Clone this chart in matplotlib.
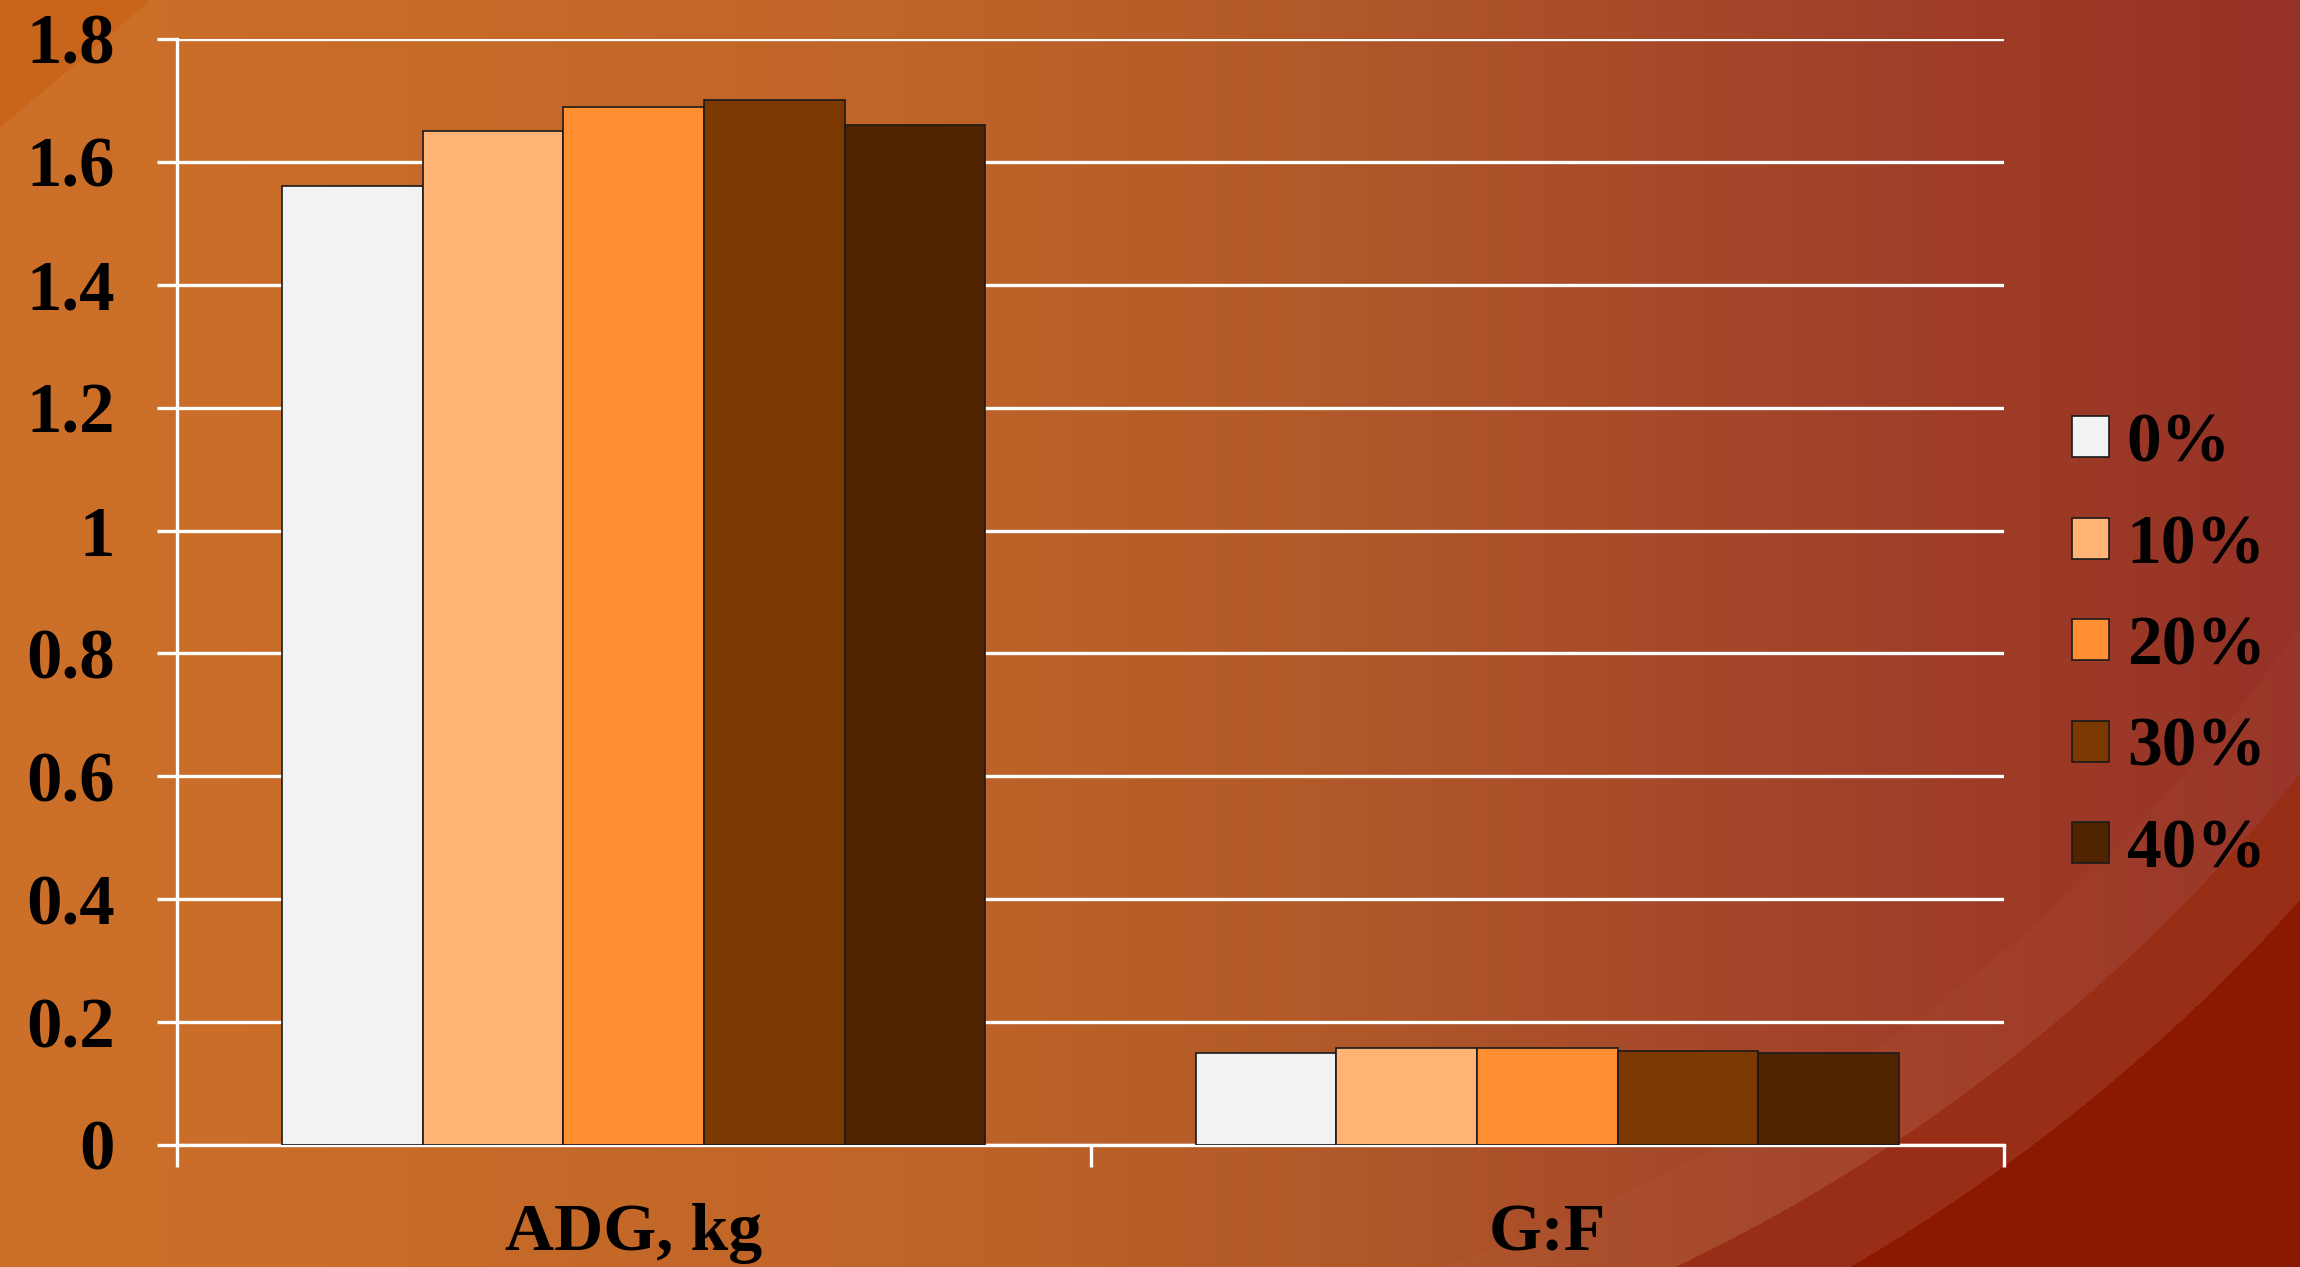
import matplotlib
matplotlib.use("Agg")
import matplotlib.pyplot as plt
import numpy as np

# chart values
categories = ["ADG, kg", "G:F"]
series = ["0%", "10%", "20%", "30%", "40%"]
values = {
    "0%":  [1.56, 0.150],
    "10%": [1.65, 0.158],
    "20%": [1.69, 0.158],
    "30%": [1.70, 0.153],
    "40%": [1.66, 0.150],
}
colors = ["#F2F2F2", "#FFB374", "#FF8F30", "#7B3800", "#512400"]
yticks = [0, 0.2, 0.4, 0.6, 0.8, 1.0, 1.2, 1.4, 1.6, 1.8]
ytick_labels = ["0", "0.2", "0.4", "0.6", "0.8", "1", "1.2", "1.4", "1.6", "1.8"]

plt.rcParams["font.family"] = ["Liberation Serif", "DejaVu Serif"]
plt.rcParams["font.weight"] = "bold"

W, H = 2300, 1267
fig = plt.figure(figsize=(W / 100, H / 100), dpi=100)

# background: horizontal orange-to-red gradient with theme decorations
xs = np.arange(W)
ys = np.arange(H)
stops_x = [0, 900, 1300, 1700, 2000, 2300]
stops_c = np.array([[205, 112, 40], [192, 101, 40], [178, 90, 41],
                    [165, 72, 42], [158, 59, 39], [150, 50, 38]], float)
row = np.stack([np.interp(xs, stops_x, stops_c[:, i]) for i in range(3)], axis=-1)
bg = np.repeat(row[None, :, :], H, axis=0)
X, Y = np.meshgrid(xs, ys)
corner = X / 150 + Y / 127 < 1
bg[corner] = [200, 101, 26]
d = np.hypot(X - 894, Y + 364)
right = X > 1200
glow = (d > 1720) & (d <= 1808) & right
bg[glow] = bg[glow] * 0.94 + np.array([200, 120, 90]) * 0.06
bg[(d > 1808) & right] = [152, 46, 22]
bg[(d > 1890) & right] = [139, 24, 0]

bg_ax = fig.add_axes([0, 0, 1, 1], zorder=-1)
bg_ax.imshow(bg.astype(np.uint8), aspect="auto", extent=[0, 1, 0, 1])
bg_ax.axis("off")

ax = fig.add_axes([177 / W, 1 - 1145 / H, (2004 - 177) / W, (1145 - 39) / H])
ax.patch.set_alpha(0)

x = np.arange(len(categories))
width = 1 / 6.5
for i, s in enumerate(series):
    ax.bar(x + (i - 2) * width, values[s], width, color=colors[i],
           edgecolor="#1a1a1a", linewidth=1.2, label=s, zorder=3)

ax.set_xlim(-0.5, 1.5)
ax.set_ylim(0, 1.8)
ax.set_yticks(yticks)
ax.set_yticklabels(ytick_labels)
ax.set_xticks([-0.5, 0.5, 1.5], minor=False)
ax.set_xticklabels([])
ax.set_xticks(x, minor=True)
ax.set_xticklabels(categories, minor=True)

ax.grid(axis="y", color="white", linewidth=2.4, zorder=1)
ax.set_axisbelow(True)
for side in ["top", "right"]:
    ax.spines[side].set_visible(False)
for side in ["left", "bottom"]:
    ax.spines[side].set_color("white")
    ax.spines[side].set_linewidth(2.4)

ax.tick_params(axis="y", which="major", direction="out", length=14.5, width=2.4,
               color="white", pad=30, labelsize=51, labelcolor="black")
ax.tick_params(axis="x", which="major", direction="out", length=16, width=2.4,
               color="white")
ax.tick_params(axis="x", which="minor", length=0, pad=42, labelsize=49,
               labelcolor="black")

leg = ax.legend(loc="center left", bbox_to_anchor=(2072 / W, 1 - 647.5 / H),
                bbox_transform=fig.transFigure, frameon=False, fontsize=50,
                handlelength=0.53, handleheight=0.53, handletextpad=0.26,
                labelspacing=0.54, borderpad=0, borderaxespad=0)

fig.savefig("out.png", dpi=100)
